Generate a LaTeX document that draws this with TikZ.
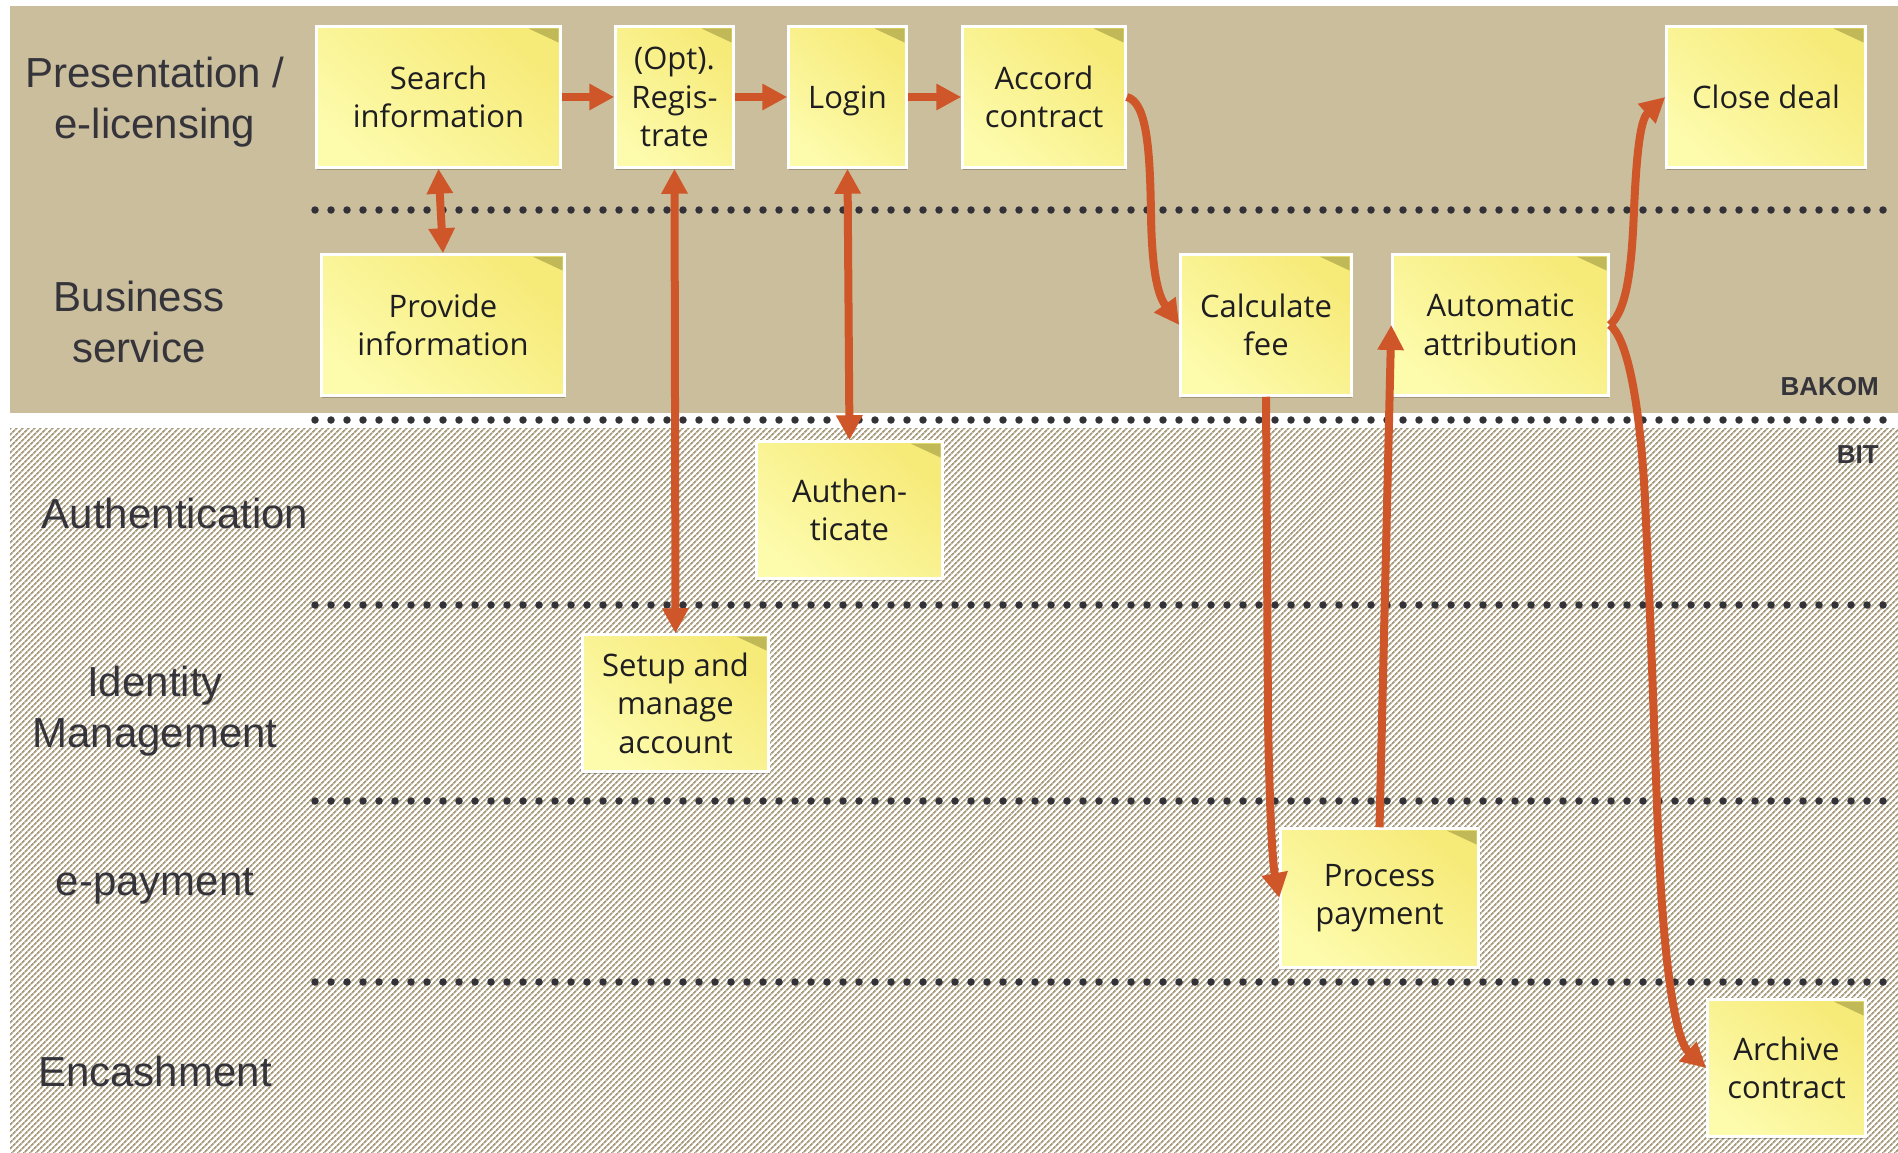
\documentclass[tikz,border=0pt]{standalone}
\usepackage{fontspec}
\newfontfamily\lanefont{Liberation Sans}
\newfontfamily\notefont{Open Sans}
\usetikzlibrary{arrows.meta,patterns.meta,shadows}
\definecolor{tanbg}{RGB}{203,190,157}
\definecolor{hatchcol}{RGB}{168,154,124}
\definecolor{dotcol}{RGB}{50,50,56}
\definecolor{arrowcol}{RGB}{207,86,40}
\definecolor{stickytop}{RGB}{246,234,120}
\definecolor{stickybot}{RGB}{253,251,172}
\definecolor{cornercol}{RGB}{150,145,60}
\definecolor{labelcol}{RGB}{52,52,58}
\definecolor{notetext}{RGB}{30,30,34}
\tikzset{
  sticky/.style={rectangle, draw=white, line width=2.5pt, inner sep=0pt,
    top color=stickytop, bottom color=stickybot, shading angle=-40,
    align=center, text=notetext, font=\notefont\fontsize{31}{38.5}\selectfont,
    drop shadow={shadow xshift=0.5pt, shadow yshift=-2.5pt, fill=black, opacity=0.22},
    path picture={\fill[cornercol, opacity=0.55]
      ([xshift=-2pt,yshift=-2pt]path picture bounding box.north east) -- ++(-30pt,0pt) -- ++(30pt,-14pt) -- cycle;}},
  lane/.style={align=center, text=labelcol, font=\lanefont\fontsize{42}{51}\selectfont, inner sep=0pt},
  tag/.style={text=labelcol, font=\lanefont\bfseries\fontsize{26}{30}\selectfont, inner sep=0pt, anchor=east},
  dotline/.style={draw=dotcol, line width=7.5pt, line cap=round, dash pattern=on 0pt off 16pt},
  flow/.style={draw=arrowcol, line width=8pt, -{Triangle[length=25pt,width=25pt]}},
  flowboth/.style={draw=arrowcol, line width=8pt, {Triangle[length=25pt,width=25pt]}-{Triangle[length=25pt,width=25pt]}}
}
\begin{document}
\begin{tikzpicture}[x=1pt,y=-1pt]
\useasboundingbox (0,0) rectangle (1898,1153);
\fill[white] (0,0) rectangle (1898,1153);
% backgrounds
\fill[tanbg] (10,6) rectangle (1898,413);
\fill[pattern={Lines[angle=45,distance=4pt,line width=1.9pt]}, pattern color=hatchcol] (10,428) rectangle (1898,1153);
% dotted lane separators
\draw[dotline] (315,210) -- (1886,210);
\draw[dotline] (315,420) -- (1886,420);
\draw[dotline] (315,605) -- (1886,605);
\draw[dotline] (315,801) -- (1886,801);
\draw[dotline] (315,982) -- (1886,982);
% lane labels
\node[lane] (l1) at (155,102) {Presentation /\\e-licensing};
\node[lane] (l2) at (139,322) {Business\\service};
\node[lane] (l3) at (175,513) {Authentication};
\node[lane] (l4) at (155,711) {Identity\\Management};
\node[lane] (l5) at (155,886) {e-payment};
\node[lane] (l6) at (155,1071) {Encashment};
\node[tag] (bakom) at (1879,387) {BAKOM};
\node[tag] (bit) at (1879,455) {BIT};
% sticky notes
\node[sticky, minimum width=244pt, minimum height=141pt] (search) at (438.5,97) {Search\\information};
\node[sticky, minimum width=118pt, minimum height=141pt] (regis) at (674.5,97) {(Opt).\\Regis-\\trate};
\node[sticky, minimum width=118pt, minimum height=141pt, text depth=0pt] (login) at (847.5,97) {Login};
\node[sticky, minimum width=163pt, minimum height=141pt] (accord) at (1044,97) {Accord\\contract};
\node[sticky, minimum width=199pt, minimum height=141pt] (close) at (1766,97) {Close deal};
\node[sticky, minimum width=243pt, minimum height=141pt] (provide) at (443,325) {Provide\\information};
\node[sticky, minimum width=171pt, minimum height=141pt] (calc) at (1266,325) {Calculate\\fee};
\node[sticky, minimum width=216pt, minimum height=141pt] (auto) at (1500.5,325) {Automatic\\attribution};
\node[sticky, minimum width=186pt, minimum height=137pt] (auth) at (849.5,510) {Authen-\\ticate};
\node[sticky, minimum width=186pt, minimum height=137pt] (setup) at (675.5,703) {Setup and\\manage\\account};
\node[sticky, minimum width=198pt, minimum height=139pt] (process) at (1379.5,898) {Process\\payment};
\node[sticky, minimum width=158pt, minimum height=137pt] (archive) at (1786.5,1068) {Archive\\contract};
% connectors
\draw[flow] (search.east) -- (regis.west);
\draw[flow] (regis.east) -- (login.west);
\draw[flow] (login.east) -- (accord.west);
\draw[flowboth] (search.south) -- (provide.north);
\draw[flowboth] (regis.south) -- (setup.north);
\draw[flowboth] (login.south) -- (auth.north);
\draw[flow] (accord.east) .. controls (1147,102) and (1150,150) .. (1151,215)
  .. controls (1152,280) and (1160,298) .. (calc.west);
\draw[flow] (calc.south) -- (1268,720) .. controls (1270,830) and (1273,865) .. (process.west);
\draw[flow] (process.north) -- (auto.west);
\draw[flow] (auto.east) .. controls (1628,310) and (1632,260) .. (1634,210)
  .. controls (1637,140) and (1642,118) .. (close.west);
\draw[flow] (auto.east) .. controls (1630,340) and (1641,420) .. (1645,500)
  .. controls (1652,650) and (1655,760) .. (1658,830)
  .. controls (1663,960) and (1675,1040) .. (archive.west);
\end{tikzpicture}
\end{document}
